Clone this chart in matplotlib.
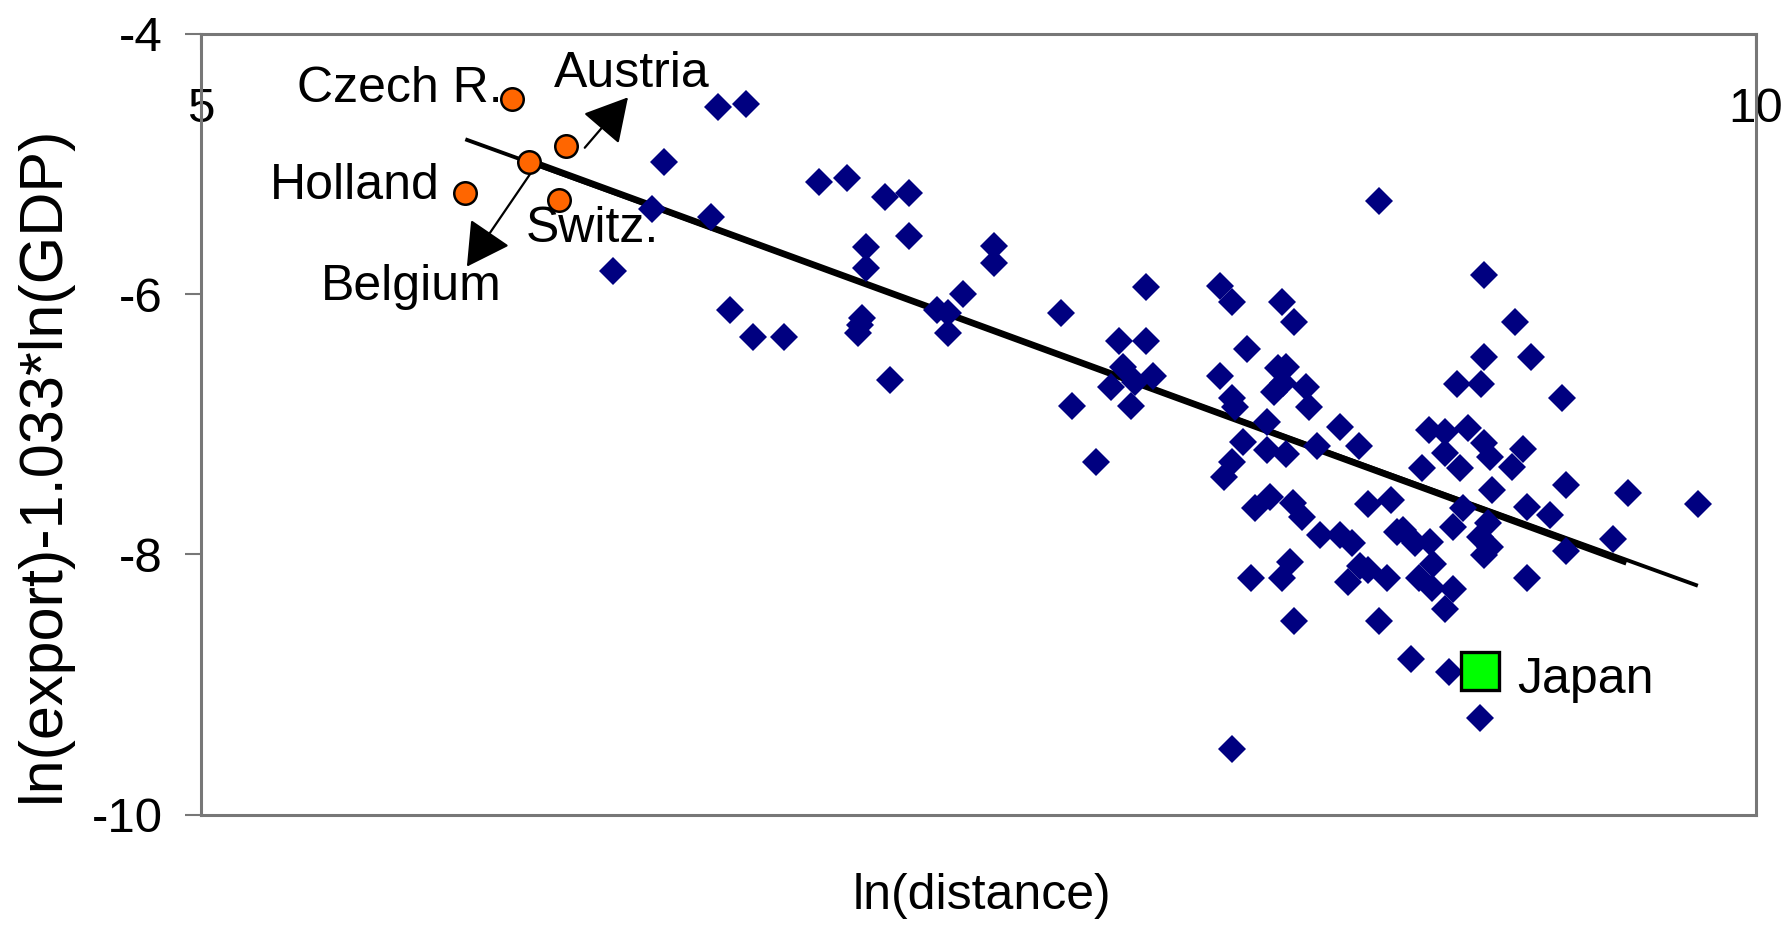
import numpy as np
import matplotlib
matplotlib.use('Agg')
import matplotlib.pyplot as plt

plt.rcParams['font.family'] = ['Liberation Sans', 'DejaVu Sans']
plt.rcParams['axes.unicode_minus'] = False

# all partners: ln(distance), ln(export)-1.033*ln(GDP)
dist = [6.663, 6.751, 6.489, 6.451, 6.639, 6.326, 6.988, 7.076, 7.200, 7.277,
        7.277, 7.138, 7.138, 7.551, 7.551, 6.701, 6.776, 6.876, 7.126, 7.119,
        7.114, 7.215, 7.366, 7.403, 7.401, 7.451, 8.789, 8.040, 8.277, 8.314,
        8.476, 8.513, 7.764, 7.952, 8.040, 8.363, 7.964, 8.062, 7.926, 8.003,
        8.277, 8.314, 8.464, 8.489, 8.450, 8.553, 8.480, 7.802, 7.989, 7.877,
        8.325, 8.427, 8.564, 8.662, 8.724, 8.351, 8.427, 8.488, 8.587, 8.314,
        8.289, 8.437, 8.389, 8.512, 8.539, 8.598, 8.662, 8.700, 8.751, 8.825,
        8.845, 8.502, 8.376, 8.477, 8.727, 8.689, 8.751, 8.813, 8.514, 8.789,
        8.314, 9.375, 8.950, 9.000, 9.075, 9.000, 9.048, 9.125, 9.145, 9.252,
        9.214, 8.925, 9.150, 9.389, 9.588, 9.813, 9.059, 9.263, 9.338, 9.027,
        9.139, 8.866, 8.952, 8.904, 9.113, 9.145, 9.125, 9.389, 9.539, 8.917,
        8.960, 8.957, 9.027, 9.000, 9.263, 8.890, 9.014, 9.113, 9.126, 9.226,
        9.126, 9.277, 9.038, 9.115]
trade = [-4.567, -4.541, -4.989, -5.347, -5.407, -5.823, -5.138, -5.107, -5.255, -5.227,
         -5.552, -5.637, -5.798, -5.629, -5.764, -6.123, -6.332, -6.332, -6.187, -6.238,
         -6.302, -6.660, -6.123, -6.148, -6.302, -6.002, -5.286, -5.944, -5.939, -6.059,
         -6.059, -6.213, -6.148, -6.361, -6.361, -6.420, -6.563, -6.627, -6.716, -6.673,
         -6.627, -6.801, -6.570, -6.563, -6.750, -6.716, -6.686, -6.860, -6.860, -7.288,
         -6.865, -6.980, -6.865, -7.019, -7.167, -7.134, -7.198, -7.228, -7.167, -7.288,
         -7.403, -7.556, -7.645, -7.607, -7.710, -7.850, -7.850, -7.914, -7.612, -7.582,
         -7.825, -8.060, -8.183, -8.183, -8.086, -8.209, -8.119, -8.183, -8.508, -8.508,
         -9.493, -6.798, -7.044, -7.057, -7.031, -7.223, -7.338, -7.146, -7.249, -7.192,
         -7.326, -7.338, -7.505, -7.466, -7.526, -7.615, -7.645, -7.633, -7.697, -7.791,
         -7.760, -7.812, -7.902, -7.914, -7.863, -7.940, -8.004, -7.973, -7.883, -8.183,
         -8.075, -8.259, -8.267, -8.421, -8.183, -8.805, -8.900, -9.258, -5.854, -6.213,
         -6.481, -6.481, -6.691, -6.691]

# neighbours highlighted in orange
near_names = ['Czech R.', 'Holland', 'Belgium', 'Austria', 'Switz.']
near_dist = [5.999, 5.850, 6.055, 6.175, 6.152]
near_trade = [-4.503, -5.222, -4.984, -4.861, -5.278]

japan_dist = [9.113]
japan_trade = [-8.894]

# two fitted lines (end points)
fit1_x = [5.850, 9.813]
fit1_y = [-4.812, -8.240]
fit2_x = [6.093, 9.584]
fit2_y = [-5.010, -8.060]

x_ticks = [5, 10]
y_ticks = [-4, -6, -8, -10]

fs = 35.5
grey = '#777777'

fig = plt.figure(figsize=(17.88, 9.26), dpi=100)
ax = fig.add_axes([0.1124, 0.1199, 0.8697, 0.8439])

ax.plot(fit1_x, fit1_y, color='black', lw=2.8, solid_capstyle='butt', zorder=2)
ax.plot(fit2_x, fit2_y, color='black', lw=4.8, solid_capstyle='butt', zorder=2)
ax.plot(dist, trade, 'D', color='#000080', ms=14.1, mew=0, zorder=3)
ax.plot(near_dist, near_trade, 'o', color='#FF6600', mec='black', mew=1.8, ms=16.2, zorder=4)
ax.plot(japan_dist, japan_trade, 's', color='#00FF00', mec='black', mew=2.4, ms=27.5, zorder=4)

# labels (text position in data units, alignment)
label_pos = {'Czech R.': (5.970, -4.526, 'right'),
             'Holland': (5.768, -5.273, 'right'),
             'Belgium': (5.384, -6.046, 'left'),
             'Austria': (6.134, -4.413, 'left'),
             'Switz.': (6.043, -5.598, 'left')}
for name in near_names:
    tx, ty, ha = label_pos[name]
    ax.text(tx, ty, name, ha=ha, va='baseline', fontsize=36, zorder=5)
ax.text(9.232, -9.066, 'Japan', ha='left', va='baseline', fontsize=36, zorder=5)

arrow = dict(arrowstyle='-|>,head_length=0.9,head_width=0.5', mutation_scale=30,
             lw=1.6, color='black', shrinkA=0, shrinkB=0)
ax.annotate('', xy=(6.373, -4.490), xytext=(6.234, -4.877), arrowprops=arrow)
ax.annotate('', xy=(5.855, -5.790), xytext=(6.060, -5.073), arrowprops=arrow)

ax.set_xlim(5, 10)
ax.set_ylim(-10, -4)
ax.set_xticks(x_ticks)
ax.set_xticklabels([str(v) for v in x_ticks])
ax.set_yticks(y_ticks)
ax.set_yticklabels([str(v) for v in y_ticks])
ax.xaxis.set_ticks_position('top')
ax.tick_params(axis='x', direction='in', length=11.5, width=1.5, color=grey,
               pad=-71, labelsize=fs, labeltop=True, labelbottom=False)
ax.tick_params(axis='y', direction='out', length=11.5, width=1.5, color=grey,
               pad=16, labelsize=fs)
for s in ax.spines.values():
    s.set_color(grey)
    s.set_linewidth(2.2)

fig.text(43 / 1788, 1 - 464 / 926, 'ln(export)-1.033*ln(GDP)', rotation=90,
         ha='center', va='center', fontsize=44)
fig.text(982 / 1788, 1 - 909 / 926, 'ln(distance)', ha='center', va='baseline', fontsize=36)

fig.savefig('out.png', dpi=100, facecolor='white')
